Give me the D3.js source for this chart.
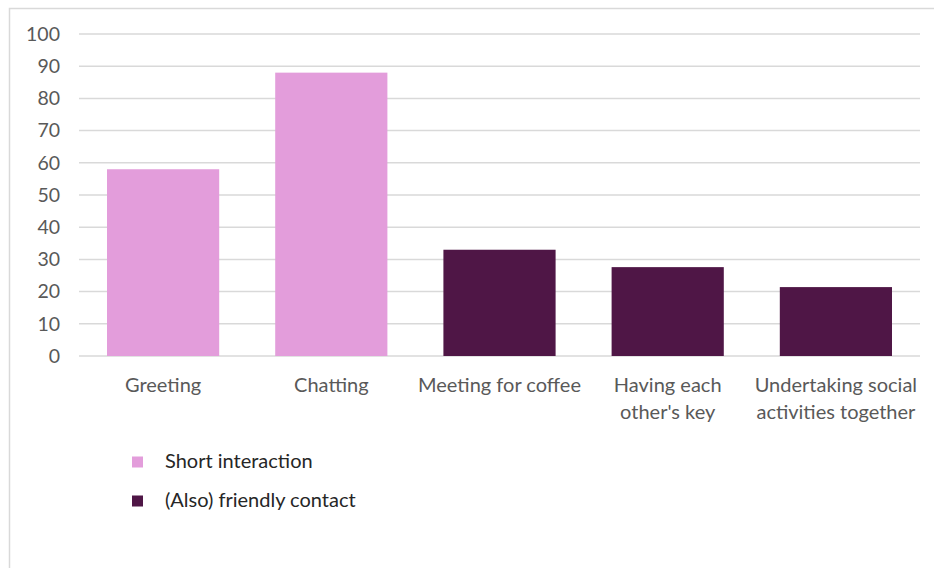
<!DOCTYPE html>
<html>
<head>
<meta charset="utf-8">
<script src="https://cdn.jsdelivr.net/npm/d3@7"></script>
<style>
  html, body { margin: 0; padding: 0; background: #fff; }
  svg { display: block; }
  text { font-family: Lato, "Open Sans", "Liberation Sans", sans-serif; }
</style>
</head>
<body>
<svg id="chart" width="934" height="568"></svg>
<script>
// Categories and the two series (a category belongs to one series only)
const categories = ["Greeting", "Chatting", "Meeting for coffee", "Having each other's key", "Undertaking social activities together"];
const categoryLines = [["Greeting"], ["Chatting"], ["Meeting for coffee"], ["Having each", "other's key"], ["Undertaking social", "activities together"]];
const shortInteraction = [58, 88, 0, 0, 0];
const friendlyContact = [0, 0, 33, 27.6, 21.4];
const seriesNames = ["Short interaction", "(Also) friendly contact"];
const seriesColors = ["#E39DDB", "#4F1646"];
const yTicks = [0, 10, 20, 30, 40, 50, 60, 70, 80, 90, 100];

const svg = d3.select("#chart");

// Chart frame
svg.append("rect")
  .attr("x", 9.5).attr("y", 8.5)
  .attr("width", 940).attr("height", 580)
  .attr("fill", "none").attr("stroke", "#d9d9d9").attr("stroke-width", 1.5);

const plot = { left: 79, right: 920, top: 34, bottom: 356 };

const x = d3.scaleBand()
  .domain(categories)
  .range([plot.left, plot.right])
  .paddingInner(0.333)
  .paddingOuter(0.1665);

const y = d3.scaleLinear()
  .domain([0, 100])
  .range([plot.bottom, plot.top]);

// Gridlines
svg.append("g")
  .selectAll("line")
  .data(yTicks)
  .join("line")
  .attr("x1", plot.left).attr("x2", plot.right)
  .attr("y1", d => y(d)).attr("y2", d => y(d))
  .attr("stroke", "#d9d9d9").attr("stroke-width", 1.5);

// Y axis labels
const yAxis = d3.axisLeft(y).tickValues(yTicks).tickSize(0).tickPadding(0);
const yg = svg.append("g").attr("transform", `translate(${60},0)`).call(yAxis);
yg.select(".domain").remove();
yg.selectAll("text")
  .attr("fill", "#595959")
  .style("font-size", "19.5px")
  .style("font-family", "Lato, 'Open Sans', sans-serif");

// Stacked series
const rows = categories.map((c, i) => ({ cat: c, s0: shortInteraction[i], s1: friendlyContact[i] }));
const stack = d3.stack().keys(["s0", "s1"])(rows);

svg.append("g")
  .selectAll("g")
  .data(stack)
  .join("g")
  .attr("fill", (d, i) => seriesColors[i])
  .selectAll("rect")
  .data(d => d.filter(p => p[1] - p[0] > 0))
  .join("rect")
  .attr("x", d => x(d.data.cat))
  .attr("width", x.bandwidth())
  .attr("y", d => y(d[1]))
  .attr("height", d => y(d[0]) - y(d[1]));

// Category labels
const xl = svg.append("g");
categories.forEach((c, i) => {
  const t = xl.append("text")
    .attr("x", x(c) + x.bandwidth() / 2)
    .attr("y", 392)
    .attr("text-anchor", "middle")
    .attr("fill", "#595959")
    .style("font-size", "20px");
  categoryLines[i].forEach((line, j) => {
    t.append("tspan")
      .attr("x", x(c) + x.bandwidth() / 2)
      .attr("dy", j === 0 ? 0 : 26.5)
      .text(line);
  });
});

// Legend
const legend = svg.append("g");
seriesNames.forEach((name, i) => {
  const yy = 462 + i * 39;
  legend.append("rect")
    .attr("x", 132).attr("y", yy - 5.5)
    .attr("width", 11).attr("height", 11)
    .attr("fill", seriesColors[i]);
  legend.append("text")
    .attr("x", 165).attr("y", yy + 6)
    .attr("fill", "#262626")
    .style("font-size", "20px")
    .text(name);
});
</script>
</body>
</html>
